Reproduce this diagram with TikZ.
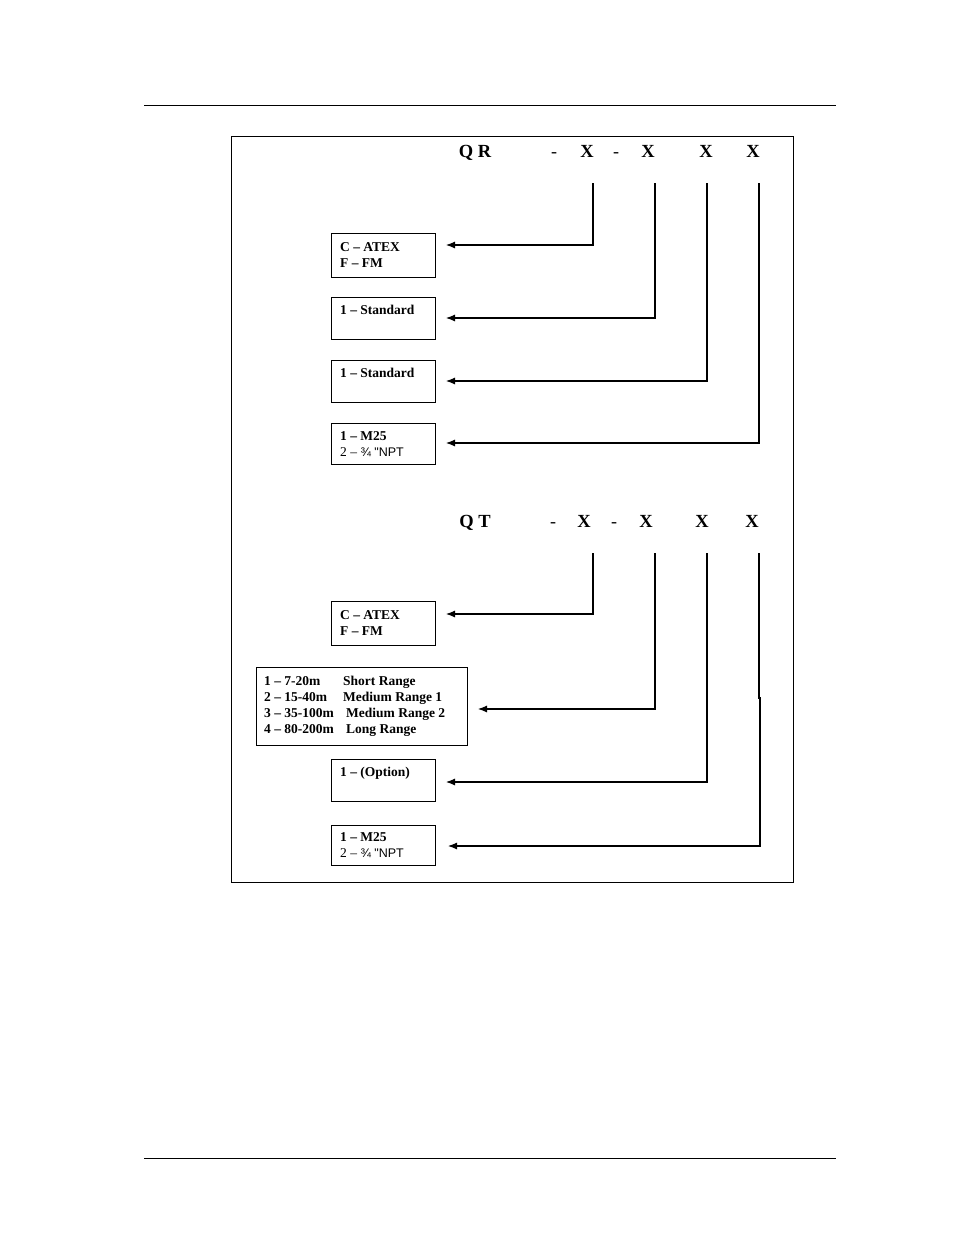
\documentclass[tikz,border=0pt]{standalone}
\usepackage{fontspec}
\setmainfont{Liberation Serif}
\newfontfamily\sansf{Liberation Sans}
\usetikzlibrary{arrows.meta}
\begin{document}
\begin{tikzpicture}[x=1pt,y=-1pt,
  rule/.style={line width=0.8pt},
  frame/.style={draw, line width=1.1pt, inner sep=0pt, anchor=north west},
  box/.style={draw, line width=0.9pt, inner sep=0pt, anchor=north west},
  txt/.style={anchor=base west, inner sep=0pt, font=\fontsize{13.5}{16}\selectfont\bfseries, align=left},
  hdr/.style={anchor=base, inner sep=0pt, font=\fontsize{18.5}{20}\selectfont\bfseries},
  hy/.style={anchor=base, inner sep=0pt, font=\fontsize{18}{20}\selectfont},
  conn/.style={line width=1.1pt, -{Latex[length=9pt,width=7pt]}}
]
\useasboundingbox (0,0) rectangle (954,1235);
% page rules
\coordinate (r1a) at (144,105); \coordinate (r1b) at (836,105);
\coordinate (r2a) at (144,1158); \coordinate (r2b) at (836,1158);
\draw[rule] (r1a) -- (r1b);
\draw[rule] (r2a) -- (r2b);
% frame
\node[frame, minimum width=562pt, minimum height=746pt] (fr) at (231,136) {};

% ---------- QR ----------
\node[hdr] (qr) at (475,157) {Q R};
\node[hy] (qrd1) at (554,157) {-};
\node[hdr] (qrx1) at (587,157) {X};
\node[hy] (qrd2) at (616,157) {-};
\node[hdr] (qrx2) at (648,157) {X};
\node[hdr] (qrx3) at (706,157) {X};
\node[hdr] (qrx4) at (753,157) {X};

\node[box, minimum width=104pt, minimum height=44pt] (a1) at (331,233) {};
\node[box, minimum width=104pt, minimum height=42pt] (a2) at (331,297) {};
\node[box, minimum width=104pt, minimum height=42pt] (a3) at (331,360) {};
\node[box, minimum width=104pt, minimum height=41pt] (a4) at (331,423) {};
\node[txt] (ta1) at (340,267) {C -- ATEX\\F -- FM};
\node[txt] (ta2) at (340,314) {1 -- Standard};
\node[txt] (ta3) at (340,377) {1 -- Standard};
\node[txt] (ta4) at (340,456) {1 -- M25\\\mdseries 2 --\sansf\fontsize{12.5}{16}\selectfont{} ¾ "NPT};

\coordinate (qa1) at (593,183); \coordinate (qb1) at (593,245); \coordinate (qe1) at (446,245);
\coordinate (qa2) at (655,183); \coordinate (qb2) at (655,318); \coordinate (qe2) at (446,318);
\coordinate (qa3) at (707,183); \coordinate (qb3) at (707,381); \coordinate (qe3) at (446,381);
\coordinate (qa4) at (759,183); \coordinate (qb4) at (759,443); \coordinate (qe4) at (446,443);
\draw[conn] (qa1) -- (qb1) -- (qe1);
\draw[conn] (qa2) -- (qb2) -- (qe2);
\draw[conn] (qa3) -- (qb3) -- (qe3);
\draw[conn] (qa4) -- (qb4) -- (qe4);

% ---------- QT ----------
\node[hdr] (qt) at (475,527) {Q T};
\node[hy] (qtd1) at (553,527) {-};
\node[hdr] (qtx1) at (584,527) {X};
\node[hy] (qtd2) at (614,527) {-};
\node[hdr] (qtx2) at (646,527) {X};
\node[hdr] (qtx3) at (702,527) {X};
\node[hdr] (qtx4) at (752,527) {X};

\node[box, minimum width=104pt, minimum height=44pt] (b1) at (331,601) {};
\node[box, minimum width=211pt, minimum height=78pt] (b2) at (256,667) {};
\node[box, minimum width=104pt, minimum height=42pt] (b3) at (331,759) {};
\node[box, minimum width=104pt, minimum height=40pt] (b4) at (331,825) {};
\node[txt] (tb1) at (340,635) {C -- ATEX\\F -- FM};
\node[txt] (tb2) at (264,733) {\makebox[79pt][l]{1 -- 7-20m}Short Range\\
  \makebox[79pt][l]{2 -- 15-40m}Medium Range 1\\
  \makebox[82pt][l]{3 -- 35-100m}Medium Range 2\\
  \makebox[82pt][l]{4 -- 80-200m}Long Range};
\node[txt] (tb3) at (340,776) {1 -- (Option)};
\node[txt] (tb4) at (340,857) {1 -- M25\\\mdseries 2 --\sansf\fontsize{12.5}{16}\selectfont{} ¾ "NPT};

\coordinate (ta1c) at (593,553); \coordinate (tb1c) at (593,614); \coordinate (te1) at (446,614);
\coordinate (ta2c) at (655,553); \coordinate (tb2c) at (655,709); \coordinate (te2) at (478,709);
\coordinate (ta3c) at (707,553); \coordinate (tb3c) at (707,782); \coordinate (te3) at (446,782);
\coordinate (ta4c) at (759,553); \coordinate (tj4a) at (759,698); \coordinate (tj4b) at (760,698);
\coordinate (tb4c) at (760,846); \coordinate (te4) at (448,846);
\draw[conn] (ta1c) -- (tb1c) -- (te1);
\draw[conn] (ta2c) -- (tb2c) -- (te2);
\draw[conn] (ta3c) -- (tb3c) -- (te3);
\draw[conn] (ta4c) -- (tj4a) -- (tj4b) -- (tb4c) -- (te4);
\end{tikzpicture}
\end{document}
